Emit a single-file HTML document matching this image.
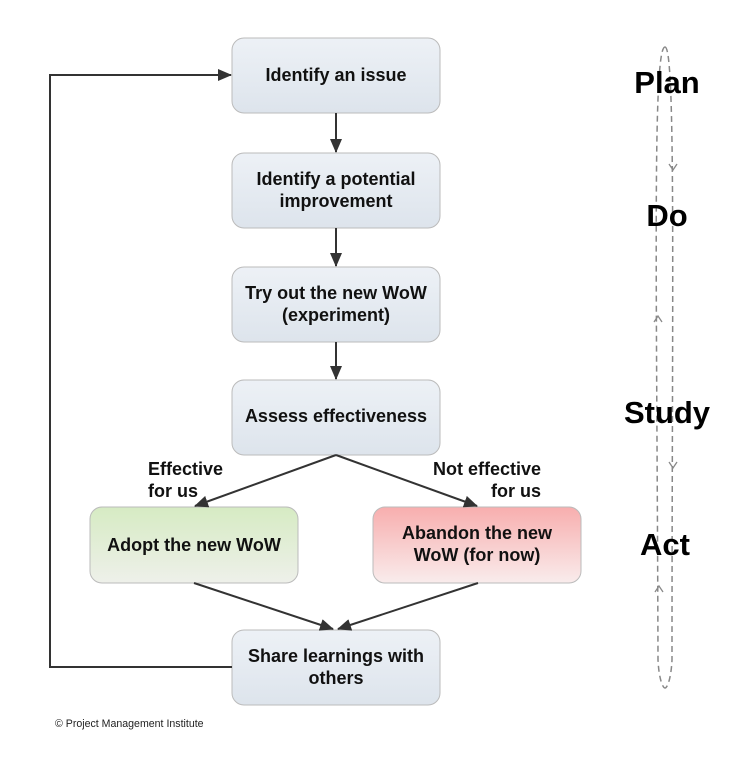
<!DOCTYPE html>
<html><head><meta charset="utf-8"><style>
body{margin:0;width:746px;height:757px;background:#fff;overflow:hidden;font-family:"Liberation Sans",Arial,sans-serif}
</style></head><body>
<svg width="746" height="757" xmlns="http://www.w3.org/2000/svg" font-family="Liberation Sans, Arial, sans-serif">
<defs>
<linearGradient id="b" x1="0" y1="0" x2="0" y2="1"><stop offset="0" stop-color="#edf1f6"/><stop offset="1" stop-color="#dde4ec"/></linearGradient>
<linearGradient id="g" x1="0" y1="0" x2="0" y2="1"><stop offset="0" stop-color="#d6ebc3"/><stop offset="1" stop-color="#eef0ea"/></linearGradient>
<linearGradient id="r" x1="0" y1="0" x2="0" y2="1"><stop offset="0" stop-color="#f8aeae"/><stop offset="1" stop-color="#f9ecec"/></linearGradient>
<marker id="a" markerWidth="14" markerHeight="12" refX="13" refY="6" orient="auto" markerUnits="userSpaceOnUse"><path d="M0,0 L14,6 L0,12 z" fill="#333"/></marker>
</defs>
<g stroke="#bbb" stroke-width="1">
<rect x="232" y="38" width="208" height="75" rx="12" fill="url(#b)"/>
<rect x="232" y="153" width="208" height="75" rx="12" fill="url(#b)"/>
<rect x="232" y="267" width="208" height="75" rx="12" fill="url(#b)"/>
<rect x="232" y="380" width="208" height="75" rx="12" fill="url(#b)"/>
<rect x="90" y="507" width="208" height="76" rx="12" fill="url(#g)"/>
<rect x="373" y="507" width="208" height="76" rx="12" fill="url(#r)"/>
<rect x="232" y="630" width="208" height="75" rx="12" fill="url(#b)"/>
</g>
<g stroke="#333" stroke-width="2" fill="none">
<line x1="336" y1="113" x2="336" y2="152" marker-end="url(#a)"/>
<line x1="336" y1="228" x2="336" y2="266" marker-end="url(#a)"/>
<line x1="336" y1="342" x2="336" y2="379" marker-end="url(#a)"/>
<line x1="336" y1="455" x2="195" y2="506" marker-end="url(#a)"/>
<line x1="336" y1="455" x2="477" y2="506" marker-end="url(#a)"/>
<line x1="194" y1="583" x2="333" y2="629" marker-end="url(#a)"/>
<line x1="478" y1="583" x2="338" y2="629" marker-end="url(#a)"/>
<polyline points="232,667 50,667 50,75 231,75" marker-end="url(#a)"/>
</g>
<g stroke="#888" stroke-width="1.5" fill="none" stroke-dasharray="6,4">
<path d="M665,47 C652,47 657,300 658,660 C659,680 663,688 665,688 M665,47 C676,47 672,300 672,660 C671,680 667,688 665,688"/>
</g>
<g fill="none" stroke="#888" stroke-width="1.3">
<path d="M669,164 L673,170 L677,164"/><path d="M669,462 L673,468 L677,462"/>
<path d="M654,322 L658,316 L662,322"/><path d="M655,592 L659,586 L663,592"/>
</g>
<g font-size="18" font-weight="bold" fill="#111" text-anchor="middle">
<text x="336" y="81">Identify an issue</text>
<text x="336" y="185">Identify a potential</text>
<text x="336" y="207">improvement</text>
<text x="336" y="299">Try out the new WoW</text>
<text x="336" y="321">(experiment)</text>
<text x="336" y="422">Assess effectiveness</text>
<text x="194" y="551">Adopt the new WoW</text>
<text x="477" y="539">Abandon the new</text>
<text x="477" y="561">WoW (for now)</text>
<text x="336" y="662">Share learnings with</text>
<text x="336" y="684">others</text>
<text x="148" y="475" text-anchor="start">Effective</text>
<text x="148" y="497" text-anchor="start">for us</text>
<text x="541" y="475" text-anchor="end">Not effective</text>
<text x="541" y="497" text-anchor="end">for us</text>
</g>
<g font-size="31" font-weight="bold" fill="#000" text-anchor="middle">
<text x="667" y="93">Plan</text>
<text x="667" y="226">Do</text>
<text x="667" y="423">Study</text>
<text x="665" y="555">Act</text>
</g>
<text x="55" y="727" font-size="10.6" fill="#222">© Project Management Institute</text>
</svg>
</body></html>
